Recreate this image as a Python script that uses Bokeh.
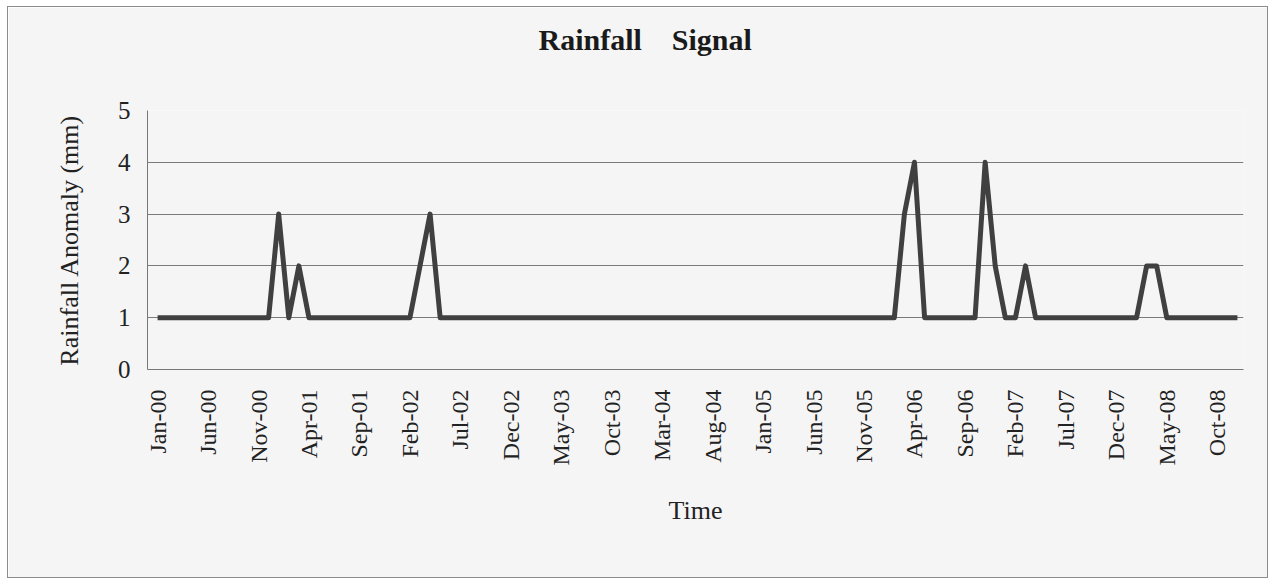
from bokeh.plotting import figure
from bokeh.models import Range1d, FixedTicker
from bokeh.embed import file_html
from bokeh.resources import INLINE

# ---- data ----
month_names = ["Jan", "Feb", "Mar", "Apr", "May", "Jun",
               "Jul", "Aug", "Sep", "Oct", "Nov", "Dec"]
years = ["00", "01", "02", "03", "04", "05", "06", "07", "08"]

rain_2000 = [1, 1, 1, 1, 1, 1, 1, 1, 1, 1, 1, 1]
rain_2001 = [3, 1, 2, 1, 1, 1, 1, 1, 1, 1, 1, 1]
rain_2002 = [1, 1, 2, 3, 1, 1, 1, 1, 1, 1, 1, 1]
rain_2003 = [1, 1, 1, 1, 1, 1, 1, 1, 1, 1, 1, 1]
rain_2004 = [1, 1, 1, 1, 1, 1, 1, 1, 1, 1, 1, 1]
rain_2005 = [1, 1, 1, 1, 1, 1, 1, 1, 1, 1, 1, 1]
rain_2006 = [1, 1, 3, 4, 1, 1, 1, 1, 1, 1, 4, 2]
rain_2007 = [1, 1, 2, 1, 1, 1, 1, 1, 1, 1, 1, 1]
rain_2008 = [1, 1, 2, 2, 1, 1, 1, 1, 1, 1, 1, 1]

y_ticks = [0, 1, 2, 3, 4, 5]
tick_step = 5  # every 5th month labelled
chart_title = "Rainfall\u00a0\u00a0\u00a0\u00a0Signal"

# ---- derived ----
rain = (rain_2000 + rain_2001 + rain_2002 + rain_2003 + rain_2004 +
        rain_2005 + rain_2006 + rain_2007 + rain_2008)
months = [f"{m}-{y}" for y in years for m in month_names]
idx = list(range(len(months)))
x_tick_pos = idx[::tick_step]
x_tick_labels = {i: months[i] for i in x_tick_pos}

FONT = "Liberation Serif"
BG = "#f5f5f5"

p = figure(width=1261, height=572, output_backend="svg", toolbar_location=None,
           x_range=Range1d(-1.0, 107.6), y_range=Range1d(0, 5),
           min_border_left=139, min_border_right=26,
           min_border_top=103, min_border_bottom=210)
p.background_fill_color = BG
p.border_fill_color = BG
p.outline_line_color = None
p.styles = {"border": "1px solid #8c8c8c", "margin": "6px 0 0 7px"}

# title: a trailing empty line lifts the text away from the plot frame
p.title.text = chart_title + "\n"
p.title.align = "left"
p.title.offset = 391
p.title.standoff = 10
p.title.text_line_height = 1.5
p.title.text_font = FONT
p.title.text_font_size = "30px"
p.title.text_font_style = "bold"
p.title.text_color = "#1a1a1a"

p.line(idx, rain, line_color="#404040", line_width=5, line_join="round")

# x axis
p.xaxis.ticker = FixedTicker(ticks=x_tick_pos)
p.xaxis.major_label_overrides = x_tick_labels
p.xaxis.major_label_orientation = 1.5707963
p.xaxis.major_tick_line_color = None
p.xaxis.minor_tick_line_color = None
p.xaxis.axis_line_color = "#777777"
p.xaxis.major_label_text_font = FONT
p.xaxis.major_label_text_font_size = "24px"
p.xaxis.major_label_text_color = "#222222"
p.xaxis.major_label_standoff = 14
p.xaxis.axis_label = "Time"
p.xaxis.axis_label_text_font = FONT
p.xaxis.axis_label_text_font_size = "26px"
p.xaxis.axis_label_text_font_style = "normal"
p.xaxis.axis_label_text_color = "#222222"
p.xaxis.axis_label_standoff = 28

# y axis
p.yaxis.ticker = FixedTicker(ticks=y_ticks)
p.yaxis.major_tick_line_color = None
p.yaxis.minor_tick_line_color = None
p.yaxis.axis_line_color = "#777777"
p.yaxis.major_label_text_font = FONT
p.yaxis.major_label_text_font_size = "25px"
p.yaxis.major_label_text_color = "#222222"
p.yaxis.major_label_standoff = 11
p.yaxis.axis_label = "Rainfall Anomaly (mm)"
p.yaxis.axis_label_text_font = FONT
p.yaxis.axis_label_text_font_size = "26px"
p.yaxis.axis_label_text_font_style = "normal"
p.yaxis.axis_label_text_color = "#222222"
p.yaxis.axis_label_standoff = 31

# grid
p.xgrid.grid_line_color = None
p.ygrid.ticker = FixedTicker(ticks=y_ticks)
p.ygrid.grid_line_color = "#7a7a7a"
p.ygrid.grid_line_width = 1

open("out.html", "w").write(file_html(p, INLINE))
